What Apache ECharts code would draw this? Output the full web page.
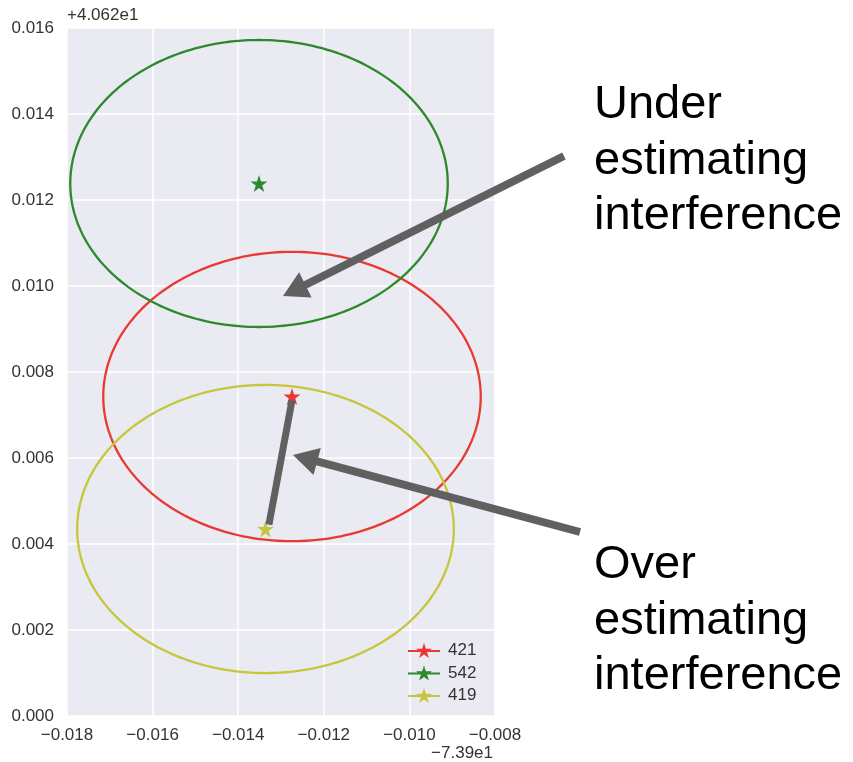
<!DOCTYPE html>
<html>
<head>
<meta charset="utf-8">
<script src="https://cdn.jsdelivr.net/npm/echarts@6/dist/echarts.min.js"></script>
<style>
html,body{margin:0;padding:0;background:#fff;}
#chart{width:853px;height:762px;}
</style>
</head>
<body>
<div id="chart"></div>
<script>
// ---- data (offsets relative to +4.062e1 lat and -7.39e1 lon) ----
const seriesNames = ['421', '542', '419'];
const centerX = [-0.012743, -0.013514, -0.013362];
const centerY = [0.007430, 0.012384, 0.004349];
const radiusX = [0.00441, 0.00441, 0.00440];
const radiusY = [0.003365, 0.003337, 0.00335];
const seriesColors = ['#E83A32', '#2C892C', '#C6C63C'];
const xTicks = [-0.018, -0.016, -0.014, -0.012, -0.010, -0.008];
const yTicks = [0.000, 0.002, 0.004, 0.006, 0.008, 0.010, 0.012, 0.014, 0.016];
const xOffsetText = '\u22127.39e1';
const yOffsetText = '+4.062e1';
const underText = ['Under', 'estimating', 'interference'];
const overText = ['Over', 'estimating', 'interference'];

// star path (matplotlib-like '*' marker)
function starPath(cx, cy, R) {
  const r = R * 0.381966;
  let d = '';
  for (let i = 0; i < 10; i++) {
    const a = -Math.PI / 2 + i * Math.PI / 5;
    const rr = i % 2 === 0 ? R : r;
    const x = cx + rr * Math.cos(a), y = cy + rr * Math.sin(a);
    d += (i === 0 ? 'M' : 'L') + x.toFixed(3) + ' ' + y.toFixed(3) + ' ';
  }
  return d + 'Z';
}
const starSymbol = 'path://' + starPath(10, 10, 10);
// legend icon: line + star, box 32x16
const legendIcon = 'path://M0 7.1 L32 7.1 L32 9.0 L0 9.0 Z ' + starPath(16, 8.4, 8.4);

const fmtMinus = v => (v < 0 ? '\u2212' : '') + Math.abs(v).toFixed(3);
const smallFont = 17;

const series = [];
seriesNames.forEach((name, i) => {
  series.push({
    name: name,
    type: 'custom',
    coordinateSystem: 'cartesian2d',
    itemStyle: { color: seriesColors[i] },
    data: [[centerX[i], centerY[i], radiusX[i], radiusY[i]]],
    renderItem: function (params, api) {
      const cx = api.value(0), cy = api.value(1), rx = api.value(2), ry = api.value(3);
      const pts = [];
      for (let k = 0; k <= 240; k++) {
        const t = k / 240 * Math.PI * 2;
        pts.push(api.coord([cx + rx * Math.cos(t), cy + ry * Math.sin(t)]));
      }
      return {
        type: 'polyline',
        shape: { points: pts },
        style: { stroke: seriesColors[i], lineWidth: 2.3, fill: null },
        silent: true
      };
    },
    z: 2
  });
  series.push({
    name: name,
    type: 'scatter',
    symbol: starSymbol,
    symbolSize: 17,
    itemStyle: { color: seriesColors[i], opacity: 1 },
    data: [[centerX[i], centerY[i]]],
    z: 3,
    silent: true
  });
});
// connector between 421 and 419 star centres (annotation)
series.push({
  type: 'line',
  data: [[centerX[0], centerY[0] - 0.00009], [centerX[2] + 0.00008, centerY[2] + 0.0001]],
  symbol: 'none',
  lineStyle: { color: '#606060', width: 7, cap: 'butt' },
  z: 5,
  silent: true
});

const chart = echarts.init(document.getElementById('chart'), null, { renderer: 'canvas' });

function arrow(x1, y1, x2, y2) {
  const dx = x2 - x1, dy = y2 - y1;
  const L = Math.sqrt(dx * dx + dy * dy);
  const ux = dx / L, uy = dy / L;
  const headLen = 25, headHalf = 14;
  const bx = x2 - ux * headLen, by = y2 - uy * headLen;
  const px = -uy, py = ux;
  return [
    { type: 'line', shape: { x1: x1, y1: y1, x2: bx + ux * 2, y2: by + uy * 2 },
      style: { stroke: '#606060', lineWidth: 8 }, z: 100 },
    { type: 'polygon', shape: { points: [[x2, y2], [bx + px * headHalf, by + py * headHalf], [bx - px * headHalf, by - py * headHalf]] },
      style: { fill: '#606060' }, z: 100 }
  ];
}

const textStyleBig = { fill: '#000', font: '47px "Liberation Sans", Arial, sans-serif' };
const graphics = [];
underText.forEach((t, k) => {
  graphics.push({ type: 'text', left: 594, top: 82 + k * 55.5, style: Object.assign({ text: t }, textStyleBig), z: 100 });
});
overText.forEach((t, k) => {
  graphics.push({ type: 'text', left: 594, top: 542 + k * 55.5, style: Object.assign({ text: t }, textStyleBig), z: 100 });
});
arrow(564, 156, 283, 296).forEach(g => graphics.push(g));
arrow(580, 532, 293, 455).forEach(g => graphics.push(g));
graphics.push({ type: 'text', left: 67, top: 7, style: { text: yOffsetText, fill: '#333', font: smallFont + 'px "Liberation Sans", Arial, sans-serif' } });
graphics.push({ type: 'text', right: 360, top: 745, style: { text: xOffsetText, fill: '#333', font: smallFont + 'px "Liberation Sans", Arial, sans-serif' } });

chart.setOption({
  animation: false,
  backgroundColor: '#ffffff',
  grid: { left: 67, right: 358, top: 28, bottom: 46, show: true, backgroundColor: '#EAEAF2', borderWidth: 0 },
  xAxis: {
    type: 'value', min: xTicks[0], max: xTicks[xTicks.length - 1], interval: 0.002,
    axisLine: { show: false }, axisTick: { show: false },
    splitLine: { show: true, lineStyle: { color: '#ffffff', width: 1.5 } },
    axisLabel: { formatter: fmtMinus, color: '#333', fontSize: smallFont, fontFamily: 'Liberation Sans', margin: 11,
      showMinLabel: true, showMaxLabel: true }
  },
  yAxis: {
    type: 'value', min: yTicks[0], max: yTicks[yTicks.length - 1], interval: 0.002,
    axisLine: { show: false }, axisTick: { show: false },
    splitLine: { show: true, lineStyle: { color: '#ffffff', width: 1.5 } },
    axisLabel: { formatter: v => v.toFixed(3), color: '#333', fontSize: smallFont, fontFamily: 'Liberation Sans', margin: 13 }
  },
  legend: {
    orient: 'vertical', left: 403, top: 637,
    itemWidth: 32, itemHeight: 16, itemGap: 5.5,
    data: seriesNames.map((n, i) => ({ name: n, icon: legendIcon, itemStyle: { color: seriesColors[i] } })),
    textStyle: { color: '#333', fontSize: smallFont, fontFamily: 'Liberation Sans', padding: [0, 0, 0, 3] },
    selectedMode: false
  },
  graphic: graphics,
  series: series
});
</script>
</body>
</html>
